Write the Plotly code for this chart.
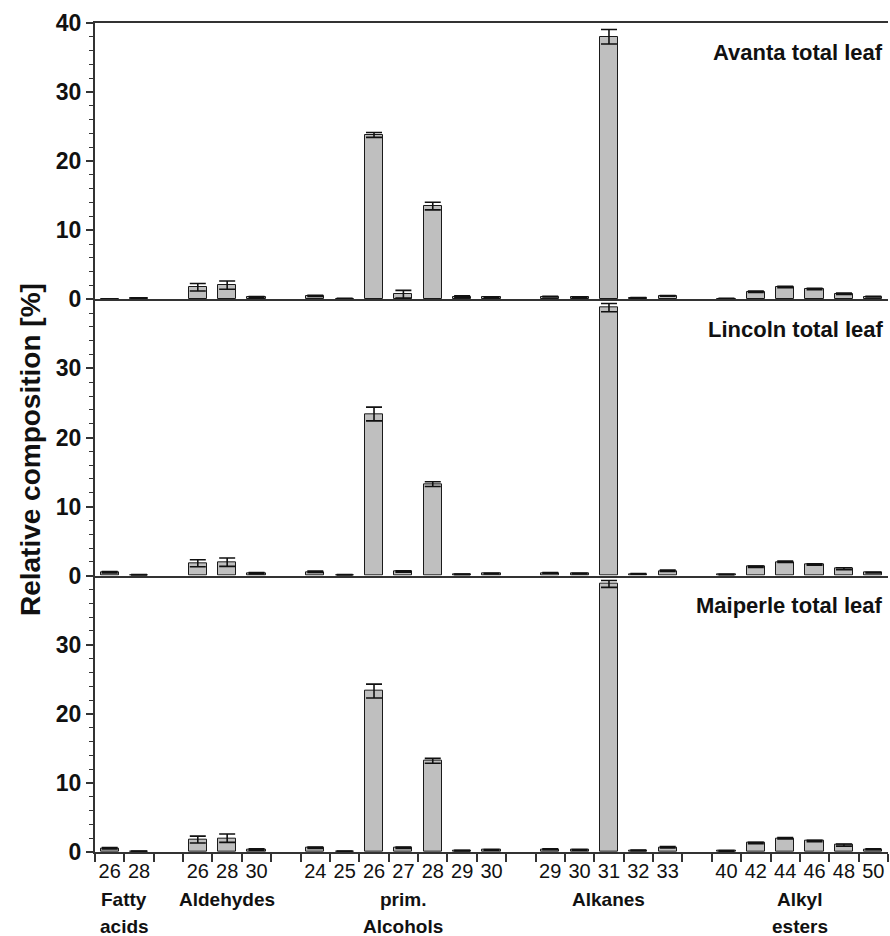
import plotly.graph_objects as go

# ---- data -------------------------------------------------------------
group_names = ["Fatty acids", "Aldehydes", "prim. Alcohols", "Alkanes", "Alkyl esters"]
group_label_lines = [("Fatty", "acids"), ("Aldehydes", ""), ("prim.", "Alcohols"),
                     ("Alkanes", ""), ("Alkyl", "esters")]
chain_lengths = [
    [26, 28],
    [26, 28, 30],
    [24, 25, 26, 27, 28, 29, 30],
    [29, 30, 31, 32, 33],
    [40, 42, 44, 46, 48, 50],
]

panel_titles = ["Avanta total leaf", "Lincoln total leaf", "Maiperle total leaf"]
top_ticks = [0, 10, 20, 30, 40]
lower_ticks = [0, 10, 20, 30]

avanta_mean = [0.0, 0.15,
               1.75, 2.05, 0.3,
               0.5, 0.1, 23.8, 0.75, 13.5, 0.4, 0.3,
               0.4, 0.3, 38.0, 0.2, 0.5,
               0.1, 1.1, 1.8, 1.5, 0.8, 0.4]
avanta_sd = [0.0, 0.05,
             0.55, 0.6, 0.1,
             0.1, 0.05, 0.35, 0.55, 0.55, 0.1, 0.05,
             0.05, 0.05, 1.05, 0.05, 0.05,
             0.05, 0.1, 0.1, 0.1, 0.1, 0.05]

lincoln_mean = [0.5, 0.1,
                1.8, 1.95, 0.35,
                0.55, 0.1, 23.4, 0.6, 13.25, 0.2, 0.3,
                0.4, 0.3, 38.8, 0.25, 0.7,
                0.15, 1.3, 2.0, 1.6, 1.0, 0.45]
lincoln_sd = [0.1, 0.05,
              0.5, 0.6, 0.1,
              0.1, 0.05, 1.0, 0.1, 0.35, 0.05, 0.05,
              0.05, 0.05, 0.6, 0.05, 0.1,
              0.05, 0.1, 0.1, 0.1, 0.15, 0.05]

maiperle_mean = [0.55, 0.1,
                 1.8, 2.0, 0.35,
                 0.6, 0.1, 23.3, 0.6, 13.2, 0.2, 0.3,
                 0.4, 0.3, 38.8, 0.25, 0.7,
                 0.15, 1.3, 2.0, 1.6, 1.0, 0.4]
maiperle_sd = [0.1, 0.05,
               0.5, 0.6, 0.1,
               0.1, 0.05, 1.0, 0.1, 0.35, 0.05, 0.05,
               0.05, 0.05, 0.5, 0.05, 0.1,
               0.05, 0.1, 0.1, 0.1, 0.15, 0.05]

panel_means = [avanta_mean, lincoln_mean, maiperle_mean]
panel_sds = [avanta_sd, lincoln_sd, maiperle_sd]

# ---- category slots: one empty slot between compound classes ----------
slot_x, slot_text, group_centers = [], [], []
pos = 0
for gi, chains in enumerate(chain_lengths):
    start = pos
    for c in chains:
        slot_x.append(pos)
        slot_text.append(str(c))
        pos += 1
    group_centers.append((start + pos - 1) / 2)
    if gi < len(chain_lengths) - 1:
        pos += 1
n_slots = pos
boundaries = [i - 0.5 for i in range(n_slots + 1)]

FONT = "Liberation Sans, Arial, Helvetica, sans-serif"
AXIS_COLOR = "#333333"
BAR_FILL = "#bfbfbf"

fig = go.Figure()
n_panels = len(panel_titles)
for k in range(n_panels):
    sfx = "" if k == 0 else str(k + 1)
    fig.add_trace(go.Bar(
        x=slot_x, y=panel_means[k],
        xaxis="x" + sfx, yaxis="y" + sfx,
        width=0.62,
        marker=dict(color=BAR_FILL, line=dict(color="#1a1a1a", width=1)),
        error_y=dict(type="data", array=panel_sds[k], visible=True,
                     color="#111111", thickness=1.6, width=8),
        showlegend=False, hoverinfo="skip",
    ))

layout = dict(
    width=890, height=936,
    margin=dict(l=95, r=2, t=23, b=84),
    paper_bgcolor="white", plot_bgcolor="white",
    font=dict(family=FONT, color="#111111"),
    bargap=0,
    annotations=[],
)

for k in range(n_panels):
    sfx = "" if k == 0 else str(k + 1)
    lo = 1 - (k + 1) / n_panels
    hi = 1 - k / n_panels
    is_bottom = k == n_panels - 1
    xa = dict(
        domain=[0, 1], range=[-0.5, n_slots - 0.5], anchor="y" + sfx,
        showline=True, linewidth=2, linecolor=AXIS_COLOR,
        mirror=(k == 0), showgrid=False, zeroline=False,
        tickmode="array", tickvals=slot_x, ticktext=slot_text,
        showticklabels=is_bottom, ticks="",
        tickfont=dict(size=20, family=FONT, color="#111111"),
        fixedrange=True,
    )
    if is_bottom:
        xa["minor"] = dict(tickmode="array", tickvals=boundaries, ticks="outside",
                           ticklen=8, tickwidth=1.5, tickcolor=AXIS_COLOR)
    if k > 0:
        xa["matches"] = "x"
    layout["xaxis" + sfx] = xa

    ya = dict(
        domain=[lo, hi], anchor="x" + sfx,
        range=[0, 40],
        tickmode="array", tickvals=top_ticks if k == 0 else lower_ticks,
        ticks="outside", ticklen=7, tickwidth=1.5, tickcolor=AXIS_COLOR,
        minor=dict(tickmode="linear", tick0=0, dtick=2, ticks="outside",
                   ticklen=4, tickwidth=1.2, tickcolor=AXIS_COLOR),
        showline=True, linewidth=2, linecolor=AXIS_COLOR,
        showgrid=False, zeroline=False,
        tickfont=dict(size=23, family=FONT, color="#111111", weight="bold"),
        fixedrange=True,
    )
    layout["yaxis" + sfx] = ya

    layout["annotations"].append(dict(
        text=panel_titles[k], xref="paper", yref="paper",
        x=0.996, y=hi - 0.036, xanchor="right", yanchor="middle",
        showarrow=False,
        font=dict(size=22, family=FONT, color="#111111", weight="bold"),
    ))

# compound class names under the chain-length labels
for name_lines, cx in zip(group_label_lines, group_centers):
    for li, line in enumerate(name_lines):
        if not line:
            continue
        layout["annotations"].append(dict(
            text=line, xref="x3", yref="paper", x=cx,
            y=0, yshift=-47 - 27 * li, xanchor="center", yanchor="middle",
            showarrow=False,
            font=dict(size=19, family=FONT, color="#111111", weight="bold"),
        ))

layout["annotations"].append(dict(
    text="Relative composition [%]", xref="paper", yref="paper",
    x=-0.082, y=0.486, xanchor="center", yanchor="middle", textangle=-90,
    showarrow=False,
    font=dict(size=28, family=FONT, color="#111111", weight="bold"),
))

fig.update_layout(**layout)
fig.write_html("out.html")
